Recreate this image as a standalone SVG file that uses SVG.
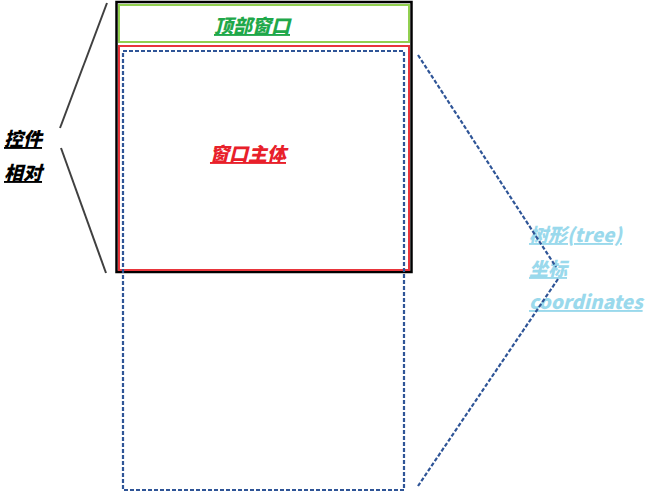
<svg xmlns="http://www.w3.org/2000/svg" width="647" height="492" viewBox="0 0 647 492">
<style>
.t{font-family:"Noto Sans CJK SC","Noto Sans",sans-serif;font-weight:900;font-style:italic;text-decoration:underline;font-size:19px}
.dash{fill:none;stroke:#2f5597;stroke-width:2.2;stroke-dasharray:4 2}
.solid{stroke:#404040;stroke-width:2;fill:none}
</style>
<rect width="647" height="492" fill="#fff"/>
<g id="frame"><rect x="116.5" y="2" width="295" height="270" fill="none" stroke="#000" stroke-width="2.5"/></g>
<g id="top"><rect x="119" y="5" width="290" height="37" fill="none" stroke="#92d050" stroke-width="2"/>
<text class="t" x="252" y="33" text-anchor="middle" fill="#1fa84a">顶部窗口</text></g>
<g id="body"><rect x="119" y="46" width="290" height="224" fill="none" stroke="#e8353b" stroke-width="2"/>
<text class="t" x="248" y="161" text-anchor="middle" fill="#e8202a">窗口主体</text></g>
<g id="tree"><rect class="dash" x="123" y="51" width="281" height="439"/></g>
<g id="labelL"><text class="t" x="4" y="146" fill="#000">控件</text><text class="t" x="4" y="180" fill="#000">相对</text></g>
<g id="labelR"><text class="t" x="529" y="242" fill="#9ad9ec">树形(tree)</text><text class="t" x="529" y="276" fill="#9ad9ec">坐标</text><text class="t" x="529" y="309" fill="#9ad9ec">coordinates</text></g>
<g id="connectors">
<line class="solid" x1="107" y1="3" x2="60" y2="128"/>
<line class="solid" x1="61" y1="148" x2="106" y2="273"/>
<line class="dash" x1="418" y1="55" x2="556" y2="267"/>
<line class="dash" x1="558" y1="279" x2="418" y2="486"/>
</g>
</svg>
